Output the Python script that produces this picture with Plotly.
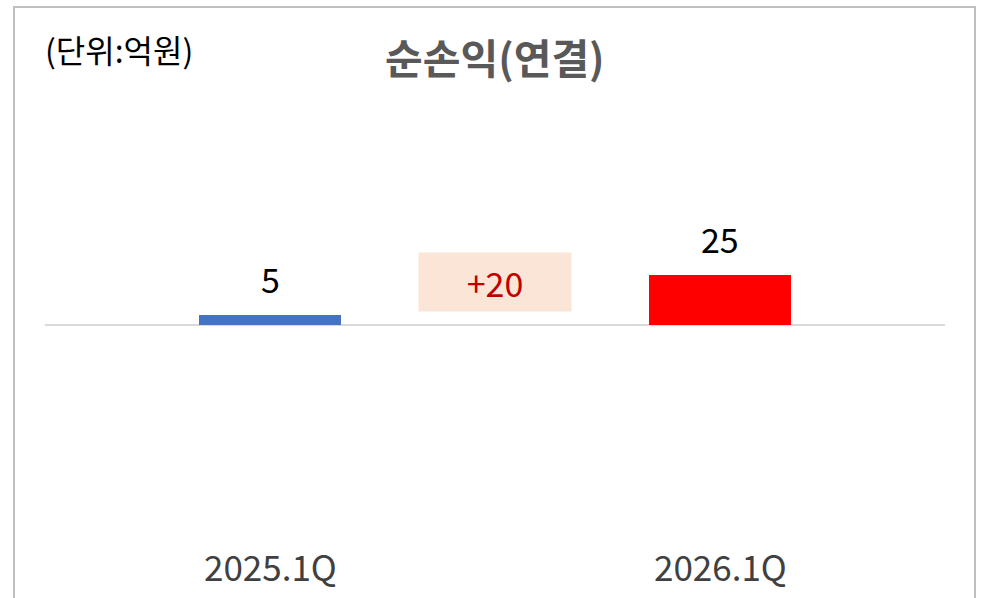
import plotly.graph_objects as go

# Data
categories = ["2025.1Q", "2026.1Q"]
values = [5, 25]
change_labels = ["+20"]
title_text = "순손익(연결)"
unit_text = "(단위:억원)"

bar_colors = ["#4472C4", "#FF0000"]
FONT = "Noto Sans CJK KR"

x_pos = [0, 2]
mid_x = 1

fig = go.Figure()
fig.add_trace(go.Bar(
    x=x_pos, y=values, width=0.63,
    marker=dict(color=bar_colors, line=dict(width=0)),
    hoverinfo="skip", showlegend=False,
))

annotations = []
# value labels
for xp, v in zip(x_pos, values):
    annotations.append(dict(
        x=xp, y=v, xref="x", yref="y", text=str(v), showarrow=False,
        yanchor="middle", yshift=37,
        font=dict(family=FONT, size=34, color="#000000"),
    ))
# change box
annotations.append(dict(
    x=mid_x, y=0, xref="x", yref="y", text=change_labels[0], showarrow=False,
    yanchor="middle", yshift=43, width=150, height=56, borderpad=1,
    bgcolor="#FBE5D6",
    font=dict(family=FONT, size=34, color="#C00000"),
))
# category labels
for xp, c in zip(x_pos, categories):
    annotations.append(dict(
        x=xp, y=-0.102, xref="x", yref="paper", text=c, showarrow=False,
        yanchor="middle",
        font=dict(family=FONT, size=35, color="#404040"),
    ))
# title
annotations.append(dict(
    x=0.5, y=1.172, xref="paper", yref="paper", text="<b>" + title_text + "</b>",
    showarrow=False, xanchor="center", yanchor="middle",
    font=dict(family=FONT, size=41, color="#595959"),
))
# unit
annotations.append(dict(
    x=-0.002, y=1.19, xref="paper", yref="paper", text=unit_text,
    showarrow=False, xanchor="left", yanchor="middle",
    font=dict(family=FONT, size=32, color="#000000"),
))

fig.update_layout(
    width=983, height=598,
    margin=dict(l=45, r=38, t=125, b=73),
    paper_bgcolor="#FFFFFF", plot_bgcolor="#FFFFFF",
    xaxis=dict(range=[-1, 3], showgrid=False, zeroline=False, showticklabels=False,
               showline=False, fixedrange=True),
    yaxis=dict(range=[-100, 100], showgrid=False, zeroline=True,
               zerolinecolor="#D9D9D9", zerolinewidth=2,
               showticklabels=False, showline=False, fixedrange=True),
    annotations=annotations,
    shapes=[dict(type="rect", xref="paper", yref="paper",
                 x0=-31/900, x1=930/900, y0=-0.3, y1=(525-7)/400,
                 line=dict(color="#BFBFBF", width=2), fillcolor="rgba(0,0,0,0)",
                 layer="below")],
    bargap=0,
)

fig.write_html("out.html", config={"displayModeBar": False},
               post_script="document.body.style.margin='0';document.body.style.overflow='hidden';")
